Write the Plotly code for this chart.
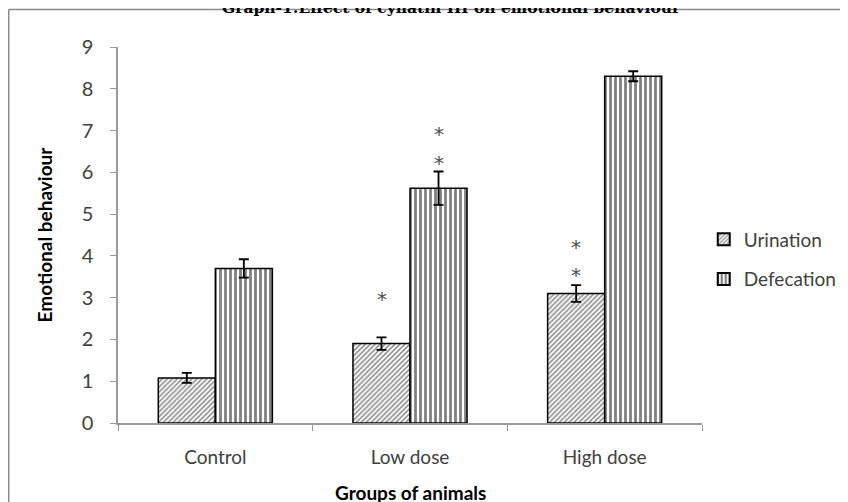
import plotly.graph_objects as go

groups = ["Control", "Low dose", "High dose"]
urination = [1.08, 1.90, 3.10]
urination_err = [0.12, 0.15, 0.20]
defecation = [3.70, 5.62, 8.30]
defecation_err = [0.22, 0.40, 0.12]

# significance stars: (group, series, y-value)
star_group = ["Low dose", "Low dose", "Low dose", "High dose", "High dose", "High dose"]
star_series = ["Urination", "Defecation", "Defecation", "Urination", "Urination", "Defecation"]
star_y = [3.11, 6.36, 7.06, 3.68, 4.35, 9.45]

y_ticks = list(range(0, 10))

GRAY = "#404040"
FONT = "Lato, 'Open Sans', sans-serif"

fig = go.Figure()
fig.add_trace(go.Bar(
    name="Urination", x=groups, y=urination, legendgroup="u",
    error_y=dict(type="data", array=urination_err, color="black", thickness=1.8, width=5),
    marker=dict(color="white", line=dict(color="black", width=1.5),
                pattern=dict(shape="/", fgcolor="black", bgcolor="white", size=3.5, solidity=0.42)),
))
fig.add_trace(go.Bar(
    name="Defecation", x=groups, y=defecation, legendgroup="d",
    error_y=dict(type="data", array=defecation_err, color="black", thickness=1.8, width=5),
    marker=dict(color="white", line=dict(color="black", width=1.5),
                pattern=dict(shape="|", fgcolor="black", bgcolor="white", size=5, solidity=0.55)),
))

BARW = 57
for g, s, yv in zip(star_group, star_series, star_y):
    fig.add_annotation(x=g, y=yv, text="*", showarrow=False,
                       xshift=(-BARW / 2 if s == "Urination" else BARW / 2), yshift=-6,
                       font=dict(family="'DejaVu Sans', sans-serif", size=20, color="#4d4d4d"))

# x-axis title as annotation (placed as in the reference)
fig.add_annotation(text="<b>Groups of animals</b>", xref="paper", yref="paper",
                   x=0.5, y=-0.186, xanchor="center", yanchor="middle", showarrow=False,
                   font=dict(family=FONT, size=19, color="black"))

# outer border (left and top edges of the framed chart)
BX0, BY1 = -0.1871, 1.0997
fig.add_shape(type="line", xref="paper", yref="paper", x0=BX0, x1=BX0, y0=-0.3, y1=BY1,
              line=dict(color="#8a8a8a", width=1.5))
fig.add_shape(type="line", xref="paper", yref="paper", x0=BX0, x1=1.3, y0=BY1, y1=BY1,
              line=dict(color="#8a8a8a", width=1.5))

fig.update_layout(
    width=848, height=502,
    margin=dict(l=110, r=154, t=39, b=87, autoexpand=False),
    paper_bgcolor="white", plot_bgcolor="white",
    barmode="group", bargap=0.414, bargroupgap=0,
    title=dict(text="<b>Graph-1:Effect of cynatin III on emotional behaviour</b>",
               x=0.5225, xanchor="center", xref="container", yref="container",
               y=1.0, yanchor="middle",
               font=dict(family="'DejaVu Serif', serif", size=15.5, color="black")),
    font=dict(family=FONT, color=GRAY),
    legend=dict(x=1.003, y=0.435, xanchor="left", yanchor="middle",
                font=dict(family=FONT, size=19, color=GRAY),
                tracegroupgap=12, itemsizing="constant", traceorder="grouped",
                itemwidth=30),
    xaxis=dict(showline=True, linecolor="#9a9a9a", linewidth=1.5, automargin=False,
               ticks="outside", tickson="boundaries", ticklen=6, tickcolor="#9a9a9a",
               tickfont=dict(family=FONT, size=19, color=GRAY),
               ticklabelstandoff=16,
               showgrid=False),
    yaxis=dict(range=[0, 9], tickvals=y_ticks, showline=True, linecolor="#9a9a9a", linewidth=1.5,
               automargin=False,
               ticks="outside", ticklen=6, tickcolor="#9a9a9a",
               tickfont=dict(family=FONT, size=20, color=GRAY),
               ticklabelstandoff=13,
               title=dict(text="<b>Emotional behaviour</b>", standoff=24,
                          font=dict(family=FONT, size=19, color="black")),
               showgrid=False, zeroline=False),
)

fig.write_html("out.html")
